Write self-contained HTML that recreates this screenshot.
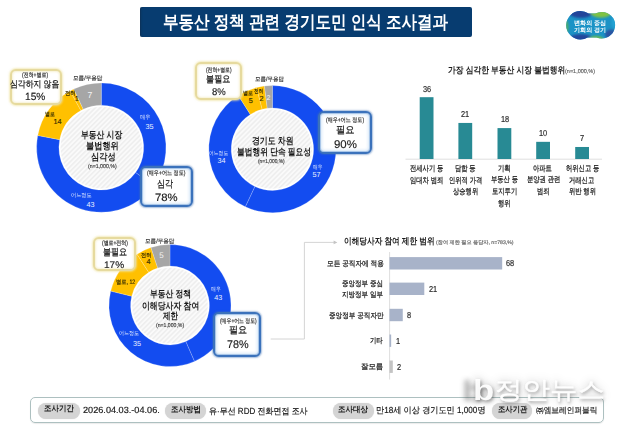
<!DOCTYPE html>
<html><head><meta charset="utf-8"><style>
html,body{margin:0;padding:0;background:#fff;}
body{width:632px;height:430px;position:relative;overflow:hidden;font-family:"Liberation Sans", sans-serif;}
.t{position:absolute;white-space:nowrap;line-height:1;text-rendering:geometricPrecision;}
.title{position:absolute;left:140px;top:6.5px;width:332px;height:30.2px;background:#073c70;border-radius:2px;box-shadow:inset 2px 0 2px -1px rgba(20,40,60,.5);}
.by,.bb{position:absolute;box-sizing:border-box;background:#fff;border-radius:6px;border:2px solid;}
.by{border-color:#e6da9e;box-shadow:0 0 2px 1px rgba(240,228,165,.7), inset 0 0 2px 1px rgba(245,238,200,.8);}
.bb{border-width:2px;border-color:#3b72bb;box-shadow:0 0 1.5px 0.5px rgba(60,110,180,.45), inset 0 0 0 1px #a9c6e8, inset 0 0 3px 2px rgba(200,222,245,.7);}
.info{position:absolute;left:29.5px;top:397.2px;width:574.3px;height:26px;box-sizing:border-box;border:1.2px solid #adc0c0;border-radius:5px;box-shadow:0 1px 1px rgba(0,0,0,.08);}
.pill{position:absolute;background:#d4d4d4;border-radius:8px;height:16px;top:402.6px;box-shadow:0 0 1px #d4d4d4;}
.logo{position:absolute;}

</style></head><body>
<div class="title"></div>
<svg class="logo" style="left:0;top:0" width="632" height="60">
<defs><clipPath id="lc"><circle cx="580.4" cy="25.2" r="14.2"/><circle cx="601.8" cy="25.2" r="13.3"/><rect x="584" y="13.6" width="16" height="23.8" rx="3"/></clipPath>
<filter id="lb" x="-20%" y="-20%" width="140%" height="140%"><feGaussianBlur stdDeviation="1.2"/></filter></defs>
<g clip-path="url(#lc)">
<rect x="560" y="8" width="60" height="36" fill="#1b93c6"/>
<g filter="url(#lb)">
<ellipse cx="581" cy="11.5" rx="13" ry="6.5" fill="#21459a"/>
<ellipse cx="581" cy="39.5" rx="12" ry="5.5" fill="#22479b"/>
<ellipse cx="601" cy="11.5" rx="11" ry="6.2" fill="#80c242"/>
<ellipse cx="596" cy="40" rx="8" ry="4" fill="#6dbd46"/>
<ellipse cx="611" cy="34.5" rx="6" ry="5" fill="#2a55a3"/>
<ellipse cx="565.5" cy="27" rx="3" ry="7" fill="#4fae68"/>
<ellipse cx="614" cy="22" rx="2.5" ry="6" fill="#23a3d3"/>
</g></g>
</svg>
<svg style="position:absolute;left:0;top:0" width="632" height="430">
<defs><pattern id="hatch" patternUnits="userSpaceOnUse" width="3.4" height="3.4" patternTransform="rotate(45)">
<rect width="3.4" height="3.4" fill="#fafafa"/><rect width="1.6" height="3.4" fill="#eeeeee"/></pattern></defs>
<path d="M101.30,82.90 A64.7,64.7 0 0 1 153.64,185.63 L135.60,172.52 A42.4,42.4 0 0 0 101.30,105.20 Z" fill="#134cf0" stroke="rgba(255,255,255,0.4)" stroke-width="0.5"/>
<path d="M153.64,185.63 A64.7,64.7 0 0 1 37.75,135.48 L59.65,139.66 A42.4,42.4 0 0 0 135.60,172.52 Z" fill="#134cf0" stroke="rgba(255,255,255,0.4)" stroke-width="0.5"/>
<path d="M37.75,135.48 A64.7,64.7 0 0 1 70.13,90.90 L80.87,110.44 A42.4,42.4 0 0 0 59.65,139.66 Z" fill="#ffc000" stroke="rgba(255,255,255,0.4)" stroke-width="0.5"/>
<path d="M70.13,90.90 A64.7,64.7 0 0 1 73.75,89.06 L83.25,109.24 A42.4,42.4 0 0 0 80.87,110.44 Z" fill="#ffc000" stroke="rgba(255,255,255,0.4)" stroke-width="0.5"/>
<path d="M73.75,89.06 A64.7,64.7 0 0 1 101.30,82.90 L101.30,105.20 A42.4,42.4 0 0 0 83.25,109.24 Z" fill="#a6a6a6" stroke="rgba(255,255,255,0.4)" stroke-width="0.5"/>
<circle cx="101.3" cy="147.6" r="40.8" fill="url(#hatch)"/>
<path d="M272.40,85.60 A63.6,63.6 0 1 1 245.32,206.75 L254.86,186.48 A41.2,41.2 0 1 0 272.40,108.00 Z" fill="#134cf0" stroke="rgba(255,255,255,0.4)" stroke-width="0.5"/>
<path d="M245.32,206.75 A63.6,63.6 0 0 1 238.32,95.50 L250.32,114.41 A41.2,41.2 0 0 0 254.86,186.48 Z" fill="#134cf0" stroke="rgba(255,255,255,0.4)" stroke-width="0.5"/>
<path d="M238.32,95.50 A63.6,63.6 0 0 1 256.58,87.60 L262.15,109.29 A41.2,41.2 0 0 0 250.32,114.41 Z" fill="#ffc000" stroke="rgba(255,255,255,0.4)" stroke-width="0.5"/>
<path d="M256.58,87.60 A63.6,63.6 0 0 1 264.43,86.10 L267.24,108.32 A41.2,41.2 0 0 0 262.15,109.29 Z" fill="#ffc000" stroke="rgba(255,255,255,0.4)" stroke-width="0.5"/>
<path d="M264.43,86.10 A63.6,63.6 0 0 1 272.40,85.60 L272.40,108.00 A41.2,41.2 0 0 0 267.24,108.32 Z" fill="#a6a6a6" stroke="rgba(255,255,255,0.4)" stroke-width="0.5"/>
<circle cx="272.4" cy="149.2" r="39.6" fill="url(#hatch)"/>
<path d="M170.00,244.50 A61.0,61.0 0 0 1 194.46,361.38 L185.80,341.59 A39.4,39.4 0 0 0 170.00,266.10 Z" fill="#134cf0" stroke="rgba(255,255,255,0.4)" stroke-width="0.5"/>
<path d="M194.46,361.38 A61.0,61.0 0 0 1 110.72,291.12 L131.71,296.21 A39.4,39.4 0 0 0 185.80,341.59 Z" fill="#134cf0" stroke="rgba(255,255,255,0.4)" stroke-width="0.5"/>
<path d="M110.72,291.12 A61.0,61.0 0 0 1 137.02,254.18 L148.70,272.35 A39.4,39.4 0 0 0 131.71,296.21 Z" fill="#ffc000" stroke="rgba(255,255,255,0.4)" stroke-width="0.5"/>
<path d="M137.02,254.18 A61.0,61.0 0 0 1 150.97,247.55 L157.71,268.07 A39.4,39.4 0 0 0 148.70,272.35 Z" fill="#ffc000" stroke="rgba(255,255,255,0.4)" stroke-width="0.5"/>
<path d="M150.97,247.55 A61.0,61.0 0 0 1 170.00,244.50 L170.00,266.10 A39.4,39.4 0 0 0 157.71,268.07 Z" fill="#a6a6a6" stroke="rgba(255,255,255,0.4)" stroke-width="0.5"/>
<circle cx="170.0" cy="305.5" r="37.8" fill="url(#hatch)"/>
<line x1="405.5" y1="159.2" x2="602" y2="159.2" stroke="#d8d8d8" stroke-width="0.8"/>
<rect x="419.70" y="97.19" width="13.8" height="61.81" fill="#288a94"/>
<rect x="458.40" y="122.94" width="13.8" height="36.06" fill="#288a94"/>
<rect x="497.50" y="128.09" width="13.8" height="30.91" fill="#288a94"/>
<rect x="536.20" y="141.83" width="13.8" height="17.17" fill="#288a94"/>
<rect x="575.20" y="146.98" width="13.8" height="12.02" fill="#288a94"/>
<line x1="389.6" y1="252" x2="389.6" y2="379.5" stroke="#d4d4d4" stroke-width="0.8"/>
<rect x="389.5" y="257.10" width="112.68" height="12.4" fill="#a8b3c9"/>
<rect x="389.5" y="282.60" width="34.80" height="12.4" fill="#a8b3c9"/>
<rect x="389.5" y="308.80" width="13.26" height="12.4" fill="#a8b3c9"/>
<rect x="389.5" y="334.50" width="1.66" height="12.4" fill="#a8b3c9"/>
<rect x="389.5" y="360.50" width="3.31" height="12.4" fill="#c3c3c3"/>
<polyline points="270.7,339 304.4,339 304.4,242.4 334,242.4" fill="none" stroke="#cfcfcf" stroke-width="0.9"/>
<polygon points="333.6,240.6 337.4,242.4 333.6,244.2" fill="#c4c4c4"/>
</svg>
<div class="by" style="left:10.3px;top:68.9px;width:51.7px;height:36.2px"></div>
<div class="bb" style="left:140px;top:166px;width:53.0px;height:41.0px"></div>
<div class="by" style="left:195px;top:62px;width:47.0px;height:38.0px"></div>
<div class="bb" style="left:317.7px;top:111.3px;width:54.7px;height:43.2px"></div>
<div class="by" style="left:93.2px;top:237.3px;width:42.6px;height:33.3px"></div>
<div class="bb" style="left:212.8px;top:311.8px;width:48.7px;height:45.2px"></div>
<div class="info"></div>
<div class="pill" style="left:38.3px;width:41.9px"></div>
<div class="pill" style="left:164.7px;width:41.2px"></div>
<div class="pill" style="left:332.7px;width:41.7px"></div>
<div class="pill" style="left:492px;width:40px"></div>
<div class="t" style="left:162.54px;top:12.50px;font-size:18px;color:#fff;font-weight:bold;transform:scaleX(0.861);transform-origin:0 50%;">부동산 정책 관련 경기도민 인식 조사결과</div>
<div class="t" style="left:574.00px;top:20.60px;font-size:6.2px;color:#fff;font-weight:bold;transform:scaleX(0.981);transform-origin:0 50%;">변화의 중심</div>
<div class="t" style="left:574.00px;top:27.80px;font-size:6.2px;color:#fff;font-weight:bold;transform:scaleX(0.981);transform-origin:0 50%;">기회의 경기</div>
<div class="t" style="left:81.45px;top:131.10px;font-size:9.6px;color:#1a1a1a;font-weight:bold;transform:scaleX(0.814);transform-origin:0 50%;">부동산 시장</div>
<div class="t" style="left:86.40px;top:142.30px;font-size:9.6px;color:#1a1a1a;font-weight:bold;transform:scaleX(0.854);transform-origin:0 50%;">불법행위</div>
<div class="t" style="left:90.80px;top:153.20px;font-size:9.6px;color:#1a1a1a;font-weight:bold;transform:scaleX(0.857);transform-origin:0 50%;">심각성</div>
<div class="t" style="left:88.00px;top:165.00px;font-size:5.6px;color:#444;transform:scaleX(0.935);transform-origin:0 50%;-webkit-text-stroke:0.18px currentColor;">(n=1,000,%)</div>
<div class="t" style="left:139.50px;top:115.80px;font-size:5.8px;color:#e8efff;transform:scaleX(0.891);transform-origin:0 50%;">매우</div>
<div class="t" style="left:145.50px;top:122.50px;font-size:7.2px;color:#e8efff;">35</div>
<div class="t" style="left:70.80px;top:193.70px;font-size:5.8px;color:#e8efff;transform:scaleX(0.891);transform-origin:0 50%;">어느정도</div>
<div class="t" style="left:86.40px;top:201.20px;font-size:7.2px;color:#e8efff;">43</div>
<div class="t" style="left:45.45px;top:112.90px;font-size:5.8px;color:#3a3000;transform:scaleX(0.845);transform-origin:0 50%;-webkit-text-stroke:0.18px currentColor;">별로</div>
<div class="t" style="left:53.50px;top:117.50px;font-size:7.2px;color:#3a3000;-webkit-text-stroke:0.18px currentColor;">14</div>
<div class="t" style="left:65.00px;top:91.90px;font-size:5.8px;color:#3a3000;transform:scaleX(0.927);transform-origin:0 50%;-webkit-text-stroke:0.18px currentColor;">전혀</div>
<div class="t" style="left:74.70px;top:95.30px;font-size:7.2px;color:#3a3000;-webkit-text-stroke:0.18px currentColor;">1</div>
<div class="t" style="left:87.50px;top:90.80px;font-size:8.6px;color:#f4f4f4;">7</div>
<div class="t" style="left:72.92px;top:75.70px;font-size:6.0px;color:#333;transform:scaleX(0.930);transform-origin:0 50%;-webkit-text-stroke:0.18px currentColor;">모름/무응답</div>
<div class="t" style="left:21.95px;top:72.50px;font-size:6.4px;color:#2a2a2a;transform:scaleX(0.779);transform-origin:0 50%;-webkit-text-stroke:0.18px currentColor;">(전혀+별로)</div>
<div class="t" style="left:10.49px;top:79.50px;font-size:9.2px;color:#1a1a1a;transform:scaleX(0.855);transform-origin:0 50%;-webkit-text-stroke:0.25px currentColor;">심각하지 않음</div>
<div class="t" style="left:24.77px;top:92.90px;font-size:10.4px;color:#1a1a1a;transform:scaleX(0.975);transform-origin:0 50%;-webkit-text-stroke:0.15px currentColor;">15%</div>
<div class="t" style="left:147.40px;top:171.40px;font-size:6.4px;color:#2a2a2a;transform:scaleX(0.800);transform-origin:0 50%;-webkit-text-stroke:0.18px currentColor;">(매우+어느 정도)</div>
<div class="t" style="left:157.32px;top:179.60px;font-size:9.8px;color:#1a1a1a;transform:scaleX(0.826);transform-origin:0 50%;-webkit-text-stroke:0.25px currentColor;">심각</div>
<div class="t" style="left:154.65px;top:193.40px;font-size:10.8px;color:#1a1a1a;transform:scaleX(1.048);transform-origin:0 50%;-webkit-text-stroke:0.15px currentColor;">78%</div>
<div class="t" style="left:252.00px;top:136.50px;font-size:9.6px;color:#1a1a1a;font-weight:bold;transform:scaleX(0.820);transform-origin:0 50%;">경기도 차원</div>
<div class="t" style="left:236.85px;top:147.80px;font-size:9.6px;color:#1a1a1a;font-weight:bold;transform:scaleX(0.808);transform-origin:0 50%;">불법행위 단속 필요성</div>
<div class="t" style="left:258.30px;top:159.50px;font-size:5.6px;color:#444;transform:scaleX(0.871);transform-origin:0 50%;-webkit-text-stroke:0.18px currentColor;">(n=1,000,%)</div>
<div class="t" style="left:313.00px;top:166.20px;font-size:5.8px;color:#e8efff;transform:scaleX(0.818);transform-origin:0 50%;">매우</div>
<div class="t" style="left:312.60px;top:171.20px;font-size:7.2px;color:#e8efff;">57</div>
<div class="t" style="left:209.00px;top:152.00px;font-size:5.8px;color:#e8efff;transform:scaleX(0.827);transform-origin:0 50%;">어느정도</div>
<div class="t" style="left:217.50px;top:157.00px;font-size:7.2px;color:#e8efff;">34</div>
<div class="t" style="left:242.95px;top:92.00px;font-size:5.8px;color:#3a3000;transform:scaleX(0.864);transform-origin:0 50%;-webkit-text-stroke:0.18px currentColor;">별로</div>
<div class="t" style="left:248.80px;top:97.00px;font-size:7.2px;color:#3a3000;-webkit-text-stroke:0.18px currentColor;">5</div>
<div class="t" style="left:254.35px;top:90.10px;font-size:5.8px;color:#3a3000;transform:scaleX(0.809);transform-origin:0 50%;-webkit-text-stroke:0.18px currentColor;">전혀</div>
<div class="t" style="left:259.60px;top:95.10px;font-size:7.2px;color:#3a3000;-webkit-text-stroke:0.18px currentColor;">2</div>
<div class="t" style="left:266.40px;top:94.80px;font-size:7.0px;color:#f4f4f4;">2</div>
<div class="t" style="left:254.83px;top:77.00px;font-size:6.0px;color:#333;transform:scaleX(0.917);transform-origin:0 50%;-webkit-text-stroke:0.18px currentColor;">모름/무응답</div>
<div class="t" style="left:205.65px;top:68.00px;font-size:6.4px;color:#2a2a2a;transform:scaleX(0.762);transform-origin:0 50%;-webkit-text-stroke:0.18px currentColor;">(전혀+별로)</div>
<div class="t" style="left:206.33px;top:74.00px;font-size:9.4px;color:#1a1a1a;transform:scaleX(0.867);transform-origin:0 50%;-webkit-text-stroke:0.25px currentColor;">불필요</div>
<div class="t" style="left:211.60px;top:87.80px;font-size:9.8px;color:#1a1a1a;transform:scaleX(0.971);transform-origin:0 50%;-webkit-text-stroke:0.15px currentColor;">8%</div>
<div class="t" style="left:326.00px;top:117.90px;font-size:6.4px;color:#2a2a2a;transform:scaleX(0.792);transform-origin:0 50%;-webkit-text-stroke:0.18px currentColor;">(매우+어느 정도)</div>
<div class="t" style="left:335.56px;top:125.70px;font-size:9.8px;color:#1a1a1a;transform:scaleX(0.944);transform-origin:0 50%;-webkit-text-stroke:0.25px currentColor;">필요</div>
<div class="t" style="left:333.55px;top:139.50px;font-size:11.2px;color:#1a1a1a;transform:scaleX(1.023);transform-origin:0 50%;-webkit-text-stroke:0.15px currentColor;">90%</div>
<div class="t" style="left:149.90px;top:289.50px;font-size:9.6px;color:#1a1a1a;font-weight:bold;transform:scaleX(0.812);transform-origin:0 50%;">부동산 정책</div>
<div class="t" style="left:141.80px;top:301.70px;font-size:9.6px;color:#1a1a1a;font-weight:bold;transform:scaleX(0.820);transform-origin:0 50%;">이해당사자 참여</div>
<div class="t" style="left:162.60px;top:312.30px;font-size:9.6px;color:#1a1a1a;font-weight:bold;transform:scaleX(0.789);transform-origin:0 50%;">제한</div>
<div class="t" style="left:156.25px;top:324.10px;font-size:5.6px;color:#444;transform:scaleX(0.919);transform-origin:0 50%;-webkit-text-stroke:0.18px currentColor;">(n=1,000,%)</div>
<div class="t" style="left:210.75px;top:287.50px;font-size:5.8px;color:#e8efff;transform:scaleX(0.845);transform-origin:0 50%;">매우</div>
<div class="t" style="left:214.20px;top:293.90px;font-size:7.2px;color:#e8efff;">43</div>
<div class="t" style="left:119.45px;top:331.50px;font-size:5.8px;color:#e8efff;transform:scaleX(0.868);transform-origin:0 50%;">어느정도</div>
<div class="t" style="left:133.00px;top:340.20px;font-size:7.2px;color:#e8efff;">35</div>
<div class="t" style="left:116.13px;top:280.00px;font-size:6.4px;color:#3a3000;transform:scaleX(0.823);transform-origin:0 50%;-webkit-text-stroke:0.18px currentColor;">별로, 12</div>
<div class="t" style="left:140.60px;top:253.60px;font-size:5.8px;color:#3a3000;transform:scaleX(0.891);transform-origin:0 50%;-webkit-text-stroke:0.18px currentColor;">전혀</div>
<div class="t" style="left:146.60px;top:258.30px;font-size:7.2px;color:#3a3000;-webkit-text-stroke:0.18px currentColor;">4</div>
<div class="t" style="left:159.30px;top:252.10px;font-size:8.0px;color:#f4f4f4;">5</div>
<div class="t" style="left:145.32px;top:238.50px;font-size:6.0px;color:#333;transform:scaleX(0.930);transform-origin:0 50%;-webkit-text-stroke:0.18px currentColor;">모름/무응답</div>
<div class="t" style="left:101.80px;top:240.90px;font-size:6.4px;color:#2a2a2a;transform:scaleX(0.771);transform-origin:0 50%;-webkit-text-stroke:0.18px currentColor;">(별로+전혀)</div>
<div class="t" style="left:102.64px;top:247.10px;font-size:9.4px;color:#1a1a1a;transform:scaleX(0.859);transform-origin:0 50%;-webkit-text-stroke:0.25px currentColor;">불필요</div>
<div class="t" style="left:104.20px;top:260.70px;font-size:9.6px;color:#1a1a1a;transform:scaleX(1.050);transform-origin:0 50%;-webkit-text-stroke:0.15px currentColor;">17%</div>
<div class="t" style="left:220.20px;top:318.50px;font-size:6.4px;color:#2a2a2a;transform:scaleX(0.763);transform-origin:0 50%;-webkit-text-stroke:0.18px currentColor;">(매우+어느 정도)</div>
<div class="t" style="left:229.06px;top:325.90px;font-size:9.6px;color:#1a1a1a;transform:scaleX(0.944);transform-origin:0 50%;-webkit-text-stroke:0.25px currentColor;">필요</div>
<div class="t" style="left:227.35px;top:339.50px;font-size:11.2px;color:#1a1a1a;transform:scaleX(0.968);transform-origin:0 50%;-webkit-text-stroke:0.15px currentColor;">78%</div>
<div class="t" style="left:447.60px;top:65.60px;font-size:9.0px;color:#1a1a1a;font-weight:bold;transform:scaleX(0.862);transform-origin:0 50%;">가장 심각한 부동산 시장 불법행위</div>
<div class="t" style="left:565.30px;top:69.70px;font-size:5.6px;color:#666;transform:scaleX(0.981);transform-origin:0 50%;-webkit-text-stroke:0.18px currentColor;">(n=1,000,%)</div>
<div class="t" style="left:422.73px;top:84.59px;font-size:8.6px;color:#2a2a2a;transform:scaleX(0.860);transform-origin:0 50%;-webkit-text-stroke:0.18px currentColor;">36</div>
<div class="t" style="left:409.66px;top:164.60px;font-size:8.2px;color:#222;transform:scaleX(0.770);transform-origin:0 50%;-webkit-text-stroke:0.25px currentColor;">전세사기 등</div>
<div class="t" style="left:410.05px;top:176.70px;font-size:8.2px;color:#222;transform:scaleX(0.770);transform-origin:0 50%;-webkit-text-stroke:0.25px currentColor;">임대차 범죄</div>
<div class="t" style="left:461.43px;top:110.34px;font-size:8.6px;color:#2a2a2a;transform:scaleX(0.860);transform-origin:0 50%;-webkit-text-stroke:0.18px currentColor;">21</div>
<div class="t" style="left:454.52px;top:164.60px;font-size:8.2px;color:#222;transform:scaleX(0.770);transform-origin:0 50%;-webkit-text-stroke:0.25px currentColor;">담합 등</div>
<div class="t" style="left:448.75px;top:176.70px;font-size:8.2px;color:#222;transform:scaleX(0.770);transform-origin:0 50%;-webkit-text-stroke:0.25px currentColor;">인위적 가격</div>
<div class="t" style="left:452.98px;top:187.80px;font-size:8.2px;color:#222;transform:scaleX(0.770);transform-origin:0 50%;-webkit-text-stroke:0.25px currentColor;">상승행위</div>
<div class="t" style="left:500.53px;top:115.49px;font-size:8.6px;color:#2a2a2a;transform:scaleX(0.860);transform-origin:0 50%;-webkit-text-stroke:0.18px currentColor;">18</div>
<div class="t" style="left:497.85px;top:165.10px;font-size:8.2px;color:#222;transform:scaleX(0.770);transform-origin:0 50%;-webkit-text-stroke:0.25px currentColor;">기획</div>
<div class="t" style="left:490.54px;top:176.20px;font-size:8.2px;color:#222;transform:scaleX(0.770);transform-origin:0 50%;-webkit-text-stroke:0.25px currentColor;">부동산 등</div>
<div class="t" style="left:491.69px;top:188.30px;font-size:8.2px;color:#222;transform:scaleX(0.770);transform-origin:0 50%;-webkit-text-stroke:0.25px currentColor;">토지투기</div>
<div class="t" style="left:498.24px;top:199.90px;font-size:8.2px;color:#222;transform:scaleX(0.770);transform-origin:0 50%;-webkit-text-stroke:0.25px currentColor;">행위</div>
<div class="t" style="left:538.80px;top:129.23px;font-size:8.6px;color:#2a2a2a;transform:scaleX(0.860);transform-origin:0 50%;-webkit-text-stroke:0.18px currentColor;">10</div>
<div class="t" style="left:533.48px;top:165.10px;font-size:8.2px;color:#222;transform:scaleX(0.770);transform-origin:0 50%;-webkit-text-stroke:0.25px currentColor;">아파트</div>
<div class="t" style="left:526.55px;top:176.20px;font-size:8.2px;color:#222;transform:scaleX(0.770);transform-origin:0 50%;-webkit-text-stroke:0.25px currentColor;">분양권 관련</div>
<div class="t" style="left:536.56px;top:188.30px;font-size:8.2px;color:#222;transform:scaleX(0.770);transform-origin:0 50%;-webkit-text-stroke:0.25px currentColor;">범죄</div>
<div class="t" style="left:579.95px;top:134.38px;font-size:8.6px;color:#2a2a2a;transform:scaleX(0.860);transform-origin:0 50%;-webkit-text-stroke:0.18px currentColor;">7</div>
<div class="t" style="left:565.55px;top:164.60px;font-size:8.2px;color:#222;transform:scaleX(0.770);transform-origin:0 50%;-webkit-text-stroke:0.25px currentColor;">허위신고 등</div>
<div class="t" style="left:569.39px;top:176.70px;font-size:8.2px;color:#222;transform:scaleX(0.770);transform-origin:0 50%;-webkit-text-stroke:0.25px currentColor;">거래신고</div>
<div class="t" style="left:569.01px;top:188.30px;font-size:8.2px;color:#222;transform:scaleX(0.770);transform-origin:0 50%;-webkit-text-stroke:0.25px currentColor;">위반 행위</div>
<div class="t" style="left:343.50px;top:237.00px;font-size:9.0px;color:#1a1a1a;font-weight:bold;transform:scaleX(0.851);transform-origin:0 50%;">이해당사자 참여 제한 범위</div>
<div class="t" style="left:435.80px;top:240.50px;font-size:5.2px;color:#666;transform:scaleX(0.995);transform-origin:0 50%;-webkit-text-stroke:0.18px currentColor;">(참여 제한 필요 응답자, n=783,%)</div>
<div class="t" style="left:505.80px;top:259.30px;font-size:8.6px;color:#2a2a2a;transform:scaleX(0.860);transform-origin:0 50%;-webkit-text-stroke:0.18px currentColor;">68</div>
<div class="t" style="left:326.52px;top:259.80px;font-size:7.6px;color:#222;transform:scaleX(0.876);transform-origin:0 50%;-webkit-text-stroke:0.25px currentColor;">모든 공직자에 적용</div>
<div class="t" style="left:428.70px;top:284.80px;font-size:8.6px;color:#2a2a2a;transform:scaleX(0.860);transform-origin:0 50%;-webkit-text-stroke:0.18px currentColor;">21</div>
<div class="t" style="left:342.24px;top:279.95px;font-size:7.6px;color:#222;transform:scaleX(0.859);transform-origin:0 50%;-webkit-text-stroke:0.25px currentColor;">중앙정부 중심</div>
<div class="t" style="left:342.24px;top:290.65px;font-size:7.6px;color:#222;transform:scaleX(0.859);transform-origin:0 50%;-webkit-text-stroke:0.25px currentColor;">지방정부 일부</div>
<div class="t" style="left:407.40px;top:311.00px;font-size:8.6px;color:#2a2a2a;transform:scaleX(0.860);transform-origin:0 50%;-webkit-text-stroke:0.18px currentColor;">8</div>
<div class="t" style="left:328.73px;top:311.50px;font-size:7.6px;color:#222;transform:scaleX(0.869);transform-origin:0 50%;-webkit-text-stroke:0.25px currentColor;">중앙정부 공직자만</div>
<div class="t" style="left:396.40px;top:336.70px;font-size:8.6px;color:#2a2a2a;transform:scaleX(0.860);transform-origin:0 50%;-webkit-text-stroke:0.18px currentColor;">1</div>
<div class="t" style="left:370.06px;top:337.20px;font-size:7.6px;color:#222;transform:scaleX(0.836);transform-origin:0 50%;-webkit-text-stroke:0.25px currentColor;">기타</div>
<div class="t" style="left:397.10px;top:362.70px;font-size:8.6px;color:#2a2a2a;transform:scaleX(0.860);transform-origin:0 50%;-webkit-text-stroke:0.18px currentColor;">2</div>
<div class="t" style="left:361.12px;top:363.20px;font-size:7.6px;color:#222;transform:scaleX(0.976);transform-origin:0 50%;-webkit-text-stroke:0.25px currentColor;">잘모름</div>
<div class="t" style="left:43.85px;top:405.20px;font-size:8.2px;color:#1a1a1a;font-weight:bold;transform:scaleX(0.912);transform-origin:0 50%;">조사기간</div>
<div class="t" style="left:83.20px;top:405.80px;font-size:9.0px;color:#1a1a1a;transform:scaleX(1.016);transform-origin:0 50%;-webkit-text-stroke:0.18px currentColor;">2026.04.03.-04.06.</div>
<div class="t" style="left:171.05px;top:405.60px;font-size:8.2px;color:#1a1a1a;font-weight:bold;transform:scaleX(0.916);transform-origin:0 50%;">조사방법</div>
<div class="t" style="left:208.69px;top:406.60px;font-size:8.8px;color:#1a1a1a;transform:scaleX(0.909);transform-origin:0 50%;-webkit-text-stroke:0.18px currentColor;">유·무선 RDD 전화면접 조사</div>
<div class="t" style="left:337.75px;top:405.60px;font-size:8.2px;color:#1a1a1a;font-weight:bold;transform:scaleX(0.918);transform-origin:0 50%;">조사대상</div>
<div class="t" style="left:376.07px;top:406.10px;font-size:8.8px;color:#1a1a1a;transform:scaleX(0.926);transform-origin:0 50%;-webkit-text-stroke:0.18px currentColor;">만18세 이상 경기도민 1,000명</div>
<div class="t" style="left:497.80px;top:405.60px;font-size:8.2px;color:#1a1a1a;font-weight:bold;transform:scaleX(0.897);transform-origin:0 50%;">조사기관</div>
<div class="t" style="left:535.50px;top:406.10px;font-size:8.4px;color:#222;transform:scaleX(0.917);transform-origin:0 50%;-webkit-text-stroke:0.18px currentColor;">㈜엠브레인퍼블릭</div>
<div class="t" style="left:473.10px;top:377.00px;font-size:29px;color:#fff;font-weight:bold;transform:scaleX(1.200);transform-origin:0 50%;color:rgba(255,255,255,.96);text-shadow:1px 2px 3px rgba(60,60,60,.45),0 0 8px rgba(80,80,80,.4);text-shadow:1px 2px 3px rgba(60,60,60,.45),0 0 8px rgba(80,80,80,.4),-9px 1px 5px rgba(80,80,80,.45);">b</div>
<div class="t" style="left:494.66px;top:378.50px;font-size:24px;color:#fff;transform:scaleX(1.145);transform-origin:0 50%;color:rgba(255,255,255,.96);text-shadow:1px 2px 3px rgba(60,60,60,.45),0 0 8px rgba(80,80,80,.4);-webkit-text-stroke:0.4px #fff;">정안뉴스</div>

</body></html>
